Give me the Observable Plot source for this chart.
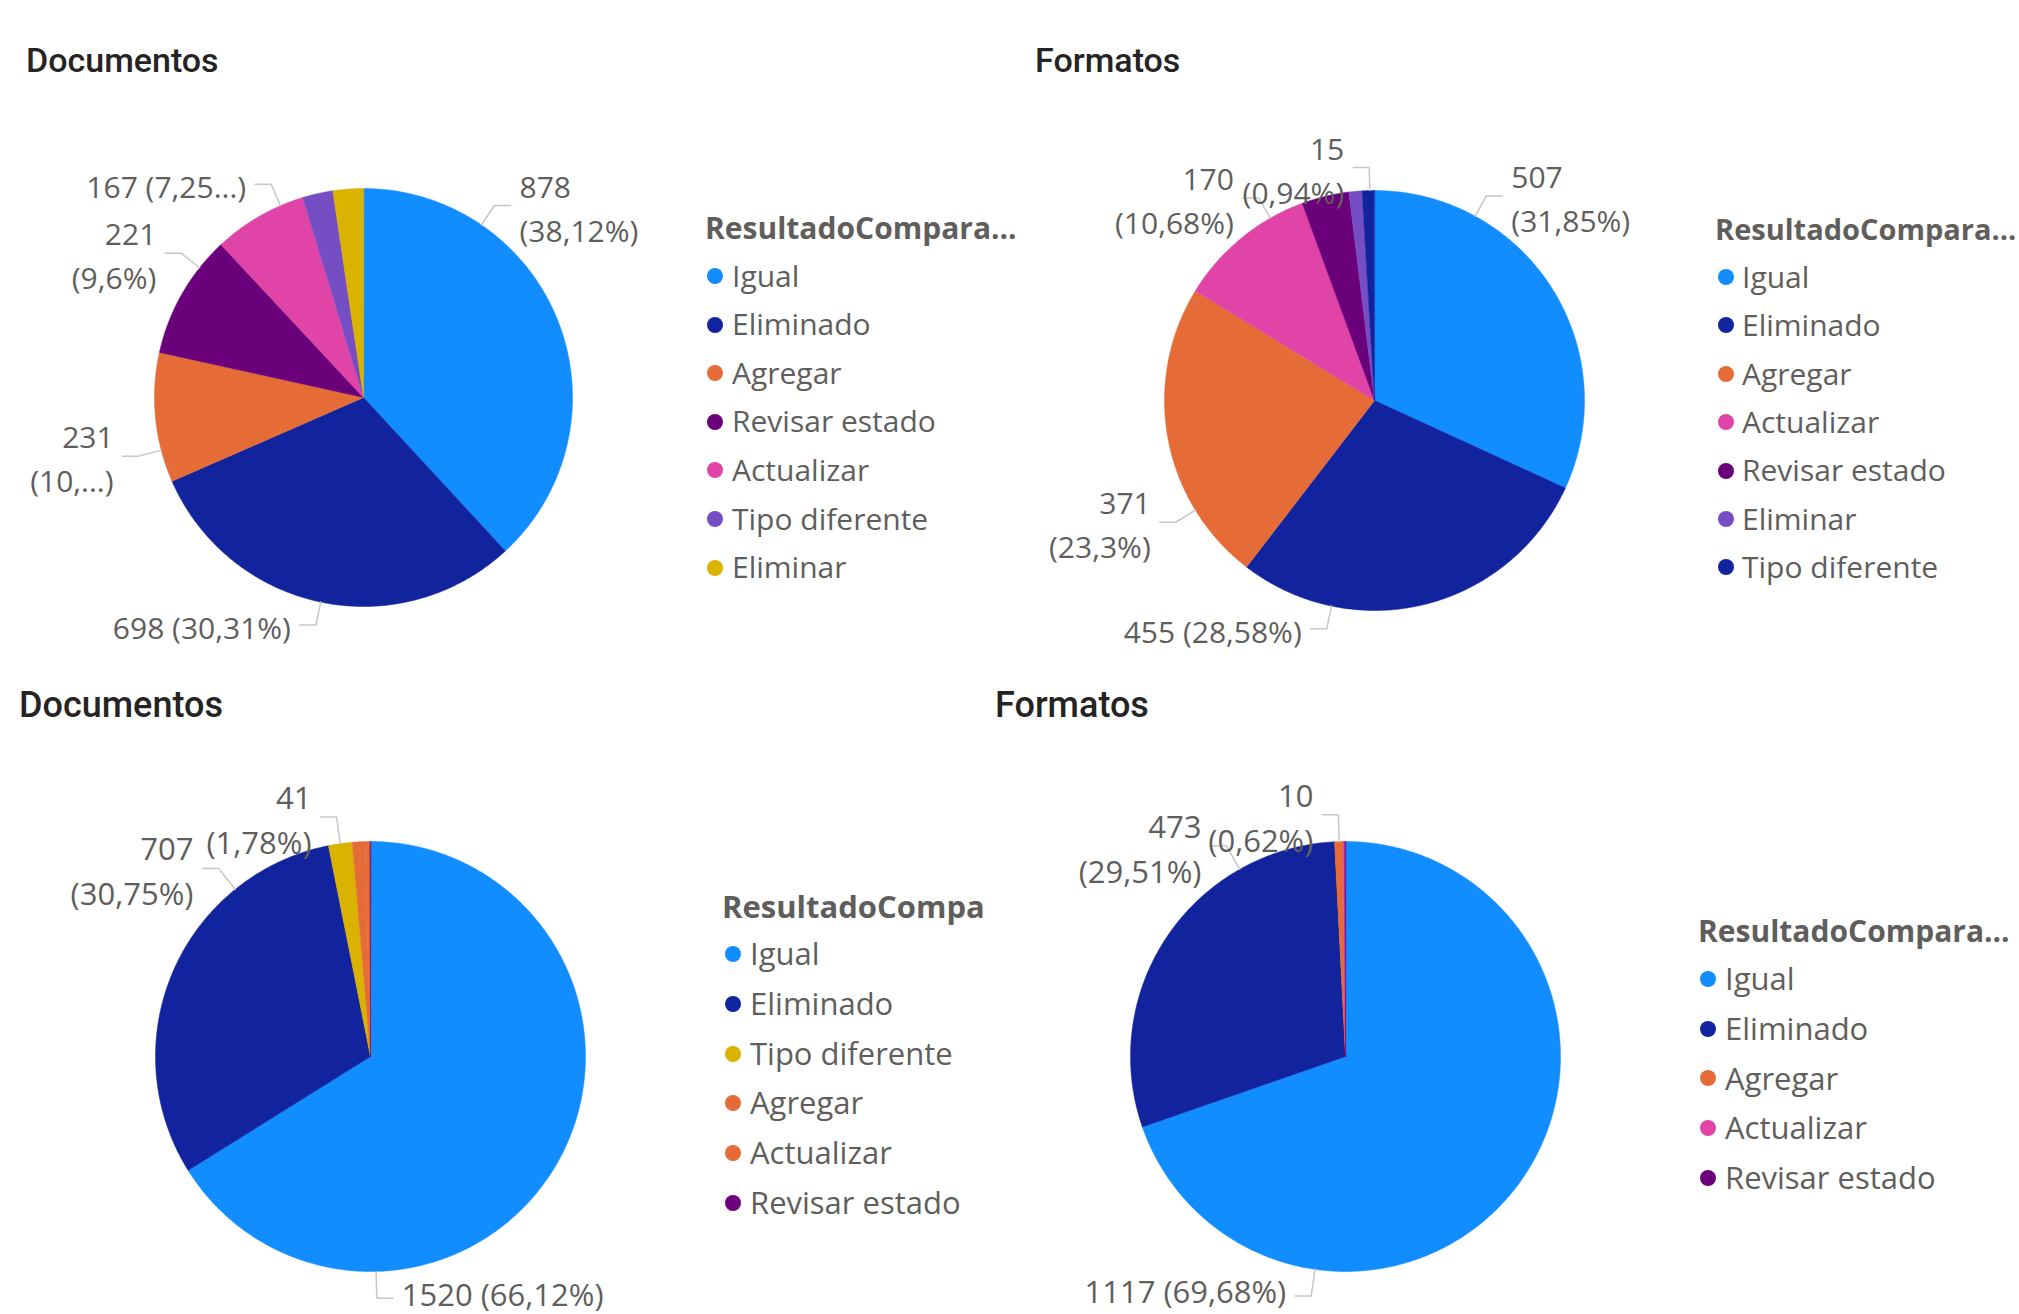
<!DOCTYPE html>
<html><head><meta charset="utf-8">
<script src="https://cdn.jsdelivr.net/npm/d3@7"></script>
<script src="https://cdn.jsdelivr.net/npm/@observablehq/plot@0.6"></script>
<style>
html,body{margin:0;padding:0;background:#fff;}
#page{position:relative;width:2019px;height:1314px;overflow:hidden;font-family:"Open Sans",sans-serif;background:#fff;}
.title{position:absolute;font-family:Roboto,sans-serif;font-weight:500;color:#252423;white-space:nowrap;}
.ltitle{position:absolute;font-family:"Open Sans",sans-serif;font-weight:700;color:#605E5C;white-space:nowrap;}
.rows{position:absolute;color:#605E5C;white-space:nowrap;}
.row{display:flex;align-items:center;}
.dot{border-radius:50%;flex:none;width:16px;height:16px;}
.plotbox{position:absolute;}
</style></head><body><div id="page"></div>
<script>
// ---------- data ----------
const doc1Categories = ["Igual","Eliminado","Agregar","Revisar estado","Actualizar","Tipo diferente","Eliminar"];
const doc1Values     = [878, 698, 231, 221, 167, 54, 54];
const doc1Labels     = [["878","(38,12%)"],["698 (30,31%)"],["231","(10,...)"],["221","(9,6%)"],["167 (7,25...)"],null,null];

const fmt1Categories = ["Igual","Eliminado","Agregar","Actualizar","Revisar estado","Eliminar","Tipo diferente"];
const fmt1Values     = [507, 455, 371, 170, 58, 16, 15];
const fmt1Labels     = [["507","(31,85%)"],["455 (28,58%)"],["371","(23,3%)"],["170","(10,68%)"],null,null,["15","(0,94%)"]];

const doc2Categories = ["Igual","Eliminado","Tipo diferente","Agregar","Actualizar","Revisar estado"];
const doc2Values     = [1520, 707, 41, 22, 8, 1];
const doc2Labels     = [["1520 (66,12%)"],["707","(30,75%)"],["41","(1,78%)"],null,null,null];

const fmt2Categories = ["Igual","Eliminado","Agregar","Actualizar","Revisar estado"];
const fmt2Values     = [1117, 473, 10, 2, 1];
const fmt2Labels     = [["1117 (69,68%)"],["473","(29,51%)"],["10","(0,62%)"],null,null];

const chartTitles  = ["Documentos","Formatos","Documentos","Formatos"];
const legendTitles = ["ResultadoCompara...","ResultadoCompara...","ResultadoCompa","ResultadoCompara..."];

// ---------- styles / layout ----------
const doc1Colors = ["#118DFF","#12239E","#E66C37","#6B007B","#E044A7","#744EC2","#D9B300"];
const fmt1Colors = ["#118DFF","#12239E","#E66C37","#E044A7","#6B007B","#744EC2","#12239E"];
const doc2Colors = ["#118DFF","#12239E","#D9B300","#E66C37","#E66C37","#6B007B"];
const fmt2Colors = ["#118DFF","#12239E","#E66C37","#E044A7","#6B007B"];

// position of each leader line inside its slice (fraction of the slice)
const doc1LabelAt = [0.25,0.5,0.25,0.75,0.75,null,null];
const fmt1LabelAt = [0.25,0.75,0.25,0.75,null,null,0.62];
const doc2LabelAt = [0.75,0.75,0.5,null,null,null];
const fmt2LabelAt = [0.75,0.75,0.55,null,null];

const charts = [
  {cats:doc1Categories, vals:doc1Values, labels:doc1Labels, at:doc1LabelAt, colors:doc1Colors},
  {cats:fmt1Categories, vals:fmt1Values, labels:fmt1Labels, at:fmt1LabelAt, colors:fmt1Colors},
  {cats:doc2Categories, vals:doc2Values, labels:doc2Labels, at:doc2LabelAt, colors:doc2Colors},
  {cats:fmt2Categories, vals:fmt2Values, labels:fmt2Labels, at:fmt2LabelAt, colors:fmt2Colors}
];

// tdy: vertical nudge for single-line labels (keeps the bottom labels inside the page)
const layouts = [
  {tL:26, tT:43, tS:34, sL:0,    sT:90,  w:700, h:567, cx:363,  cy:397,  r:209, elbow:1.112, fs:30, lh:1.47, tdy:0,
   lgL:705,  lgT:213, lgS:30, dotL:707,  gap:9, row0:276, step:48.6, itS:30},
  {tL:1035, tT:43, tS:34, sL:1000, sT:90,  w:700, h:567, cx:1374, cy:400,  r:210, elbow:1.11, fs:30, lh:1.47, tdy:0,
   lgL:1715, lgT:214, lgS:29, dotL:1718, gap:8, row0:277, step:48.4, itS:30},
  {tL:19,   tT:687, tS:36, sL:0,    sT:740, w:700, h:574, cx:370,  cy:1056, r:215, elbow:1.125, fs:31, lh:1.45, tdy:-7,
   lgL:722,  lgT:891, lgS:31, dotL:725,  gap:9, row0:954, step:49.8, itS:31},
  {tL:995,  tT:687, tS:36, sL:980,  sT:740, w:700, h:574, cx:1345, cy:1056, r:215, elbow:1.125, fs:31, lh:1.45, tdy:-7,
   lgL:1698, lgT:916, lgS:30, dotL:1700, gap:9, row0:979, step:49.7, itS:31}
];

const LEADER_H = 16, TEXT_GAP = 9;

function slicePoints(cats, vals) {
  const total = d3.sum(vals);
  let acc = 0; const pts = [];
  cats.forEach((c, i) => {
    const a0 = acc / total * 2 * Math.PI; acc += vals[i];
    const a1 = acc / total * 2 * Math.PI;
    pts.push({cat: c, x: 0, y: 0});
    const n = Math.max(2, Math.ceil((a1 - a0) / (Math.PI / 360)));
    for (let k = 0; k <= n; k++) {
      const a = a0 + (a1 - a0) * k / n;
      pts.push({cat: c, x: Math.sin(a), y: Math.cos(a)});
    }
  });
  return pts;
}

function labelGeometry(ch, L) {
  const total = d3.sum(ch.vals);
  let acc = 0; const leaders = [], texts = [];
  ch.cats.forEach((c, i) => {
    const a0 = acc / total * 2 * Math.PI; acc += ch.vals[i];
    const a1 = acc / total * 2 * Math.PI;
    if (!ch.labels[i]) return;
    const a = a0 + (a1 - a0) * ch.at[i];
    const s = Math.sin(a) >= 0 ? 1 : -1;
    const ex = L.elbow * Math.sin(a), ey = L.elbow * Math.cos(a);
    const hx = ex + s * LEADER_H / L.r;
    leaders.push({cat: c, x: Math.sin(a), y: Math.cos(a)});
    leaders.push({cat: c, x: ex, y: ey});
    leaders.push({cat: c, x: hx, y: ey});
    texts.push({cat: c, side: s, lines: ch.labels[i].length, x: hx + s * TEXT_GAP / L.r, y: ey, text: ch.labels[i].join("\n")});
  });
  return {leaders, texts};
}

const page = document.getElementById("page");

charts.forEach((ch, ci) => {
  const L = layouts[ci];
  const pts = slicePoints(ch.cats, ch.vals);
  const {leaders, texts} = labelGeometry(ch, L);
  const ox = L.cx - L.sL, oy = L.cy - L.sT;
  const textMarks = [];
  for (const side of [1, -1]) {
    for (const single of [true, false]) {
      textMarks.push(Plot.text(texts.filter(d => d.side === side && (d.lines === 1) === single), {
        x: "x", y: "y", dy: single ? L.tdy : 0, text: "text",
        textAnchor: side > 0 ? "start" : "end", fill: "#605E5C", fontSize: L.fs, lineHeight: L.lh
      }));
    }
  }
  const plot = Plot.plot({
    width: L.w, height: L.h, margin: 0,
    x: {domain: [-1, 1], range: [ox - L.r, ox + L.r], axis: null},
    y: {domain: [-1, 1], range: [oy + L.r, oy - L.r], axis: null},
    color: {domain: ch.cats, range: ch.colors},
    style: {fontFamily: "Open Sans", background: "transparent", overflow: "visible"},
    marks: [
      Plot.line(pts, {x: "x", y: "y", z: "cat", fill: "cat", stroke: "cat", strokeWidth: 0.5, curve: "linear-closed"}),
      Plot.line(leaders, {x: "x", y: "y", z: "cat", stroke: "#C8C6C4", strokeWidth: 1.5, strokeLinejoin: "miter"}),
      ...textMarks
    ]
  });
  const box = document.createElement("div");
  box.className = "plotbox";
  box.style.left = L.sL + "px"; box.style.top = L.sT + "px";
  box.appendChild(plot);
  page.appendChild(box);

  // chart title
  const t = document.createElement("div");
  t.className = "title";
  t.textContent = chartTitles[ci];
  Object.assign(t.style, {left: L.tL + "px", top: L.tT + "px", fontSize: L.tS + "px", lineHeight: L.tS + "px"});
  page.appendChild(t);

  // legend
  const color = plot.scale("color");
  const lt = document.createElement("div");
  lt.className = "ltitle";
  lt.textContent = legendTitles[ci];
  Object.assign(lt.style, {left: L.lgL + "px", top: L.lgT + "px", fontSize: L.lgS + "px", lineHeight: L.lgS + "px"});
  page.appendChild(lt);
  const rows = document.createElement("div");
  rows.className = "rows";
  Object.assign(rows.style, {left: L.dotL + "px", top: (L.row0 - L.step / 2) + "px", fontSize: L.itS + "px"});
  ch.cats.forEach(c => {
    const r = document.createElement("div");
    r.className = "row";
    r.style.height = L.step + "px";
    const d = document.createElement("span");
    d.className = "dot";
    d.style.background = color.apply(c);
    const s = document.createElement("span");
    s.textContent = c;
    s.style.marginLeft = L.gap + "px";
    s.style.lineHeight = L.step + "px";
    r.appendChild(d); r.appendChild(s);
    rows.appendChild(r);
  });
  page.appendChild(rows);
});
</script></body></html>
